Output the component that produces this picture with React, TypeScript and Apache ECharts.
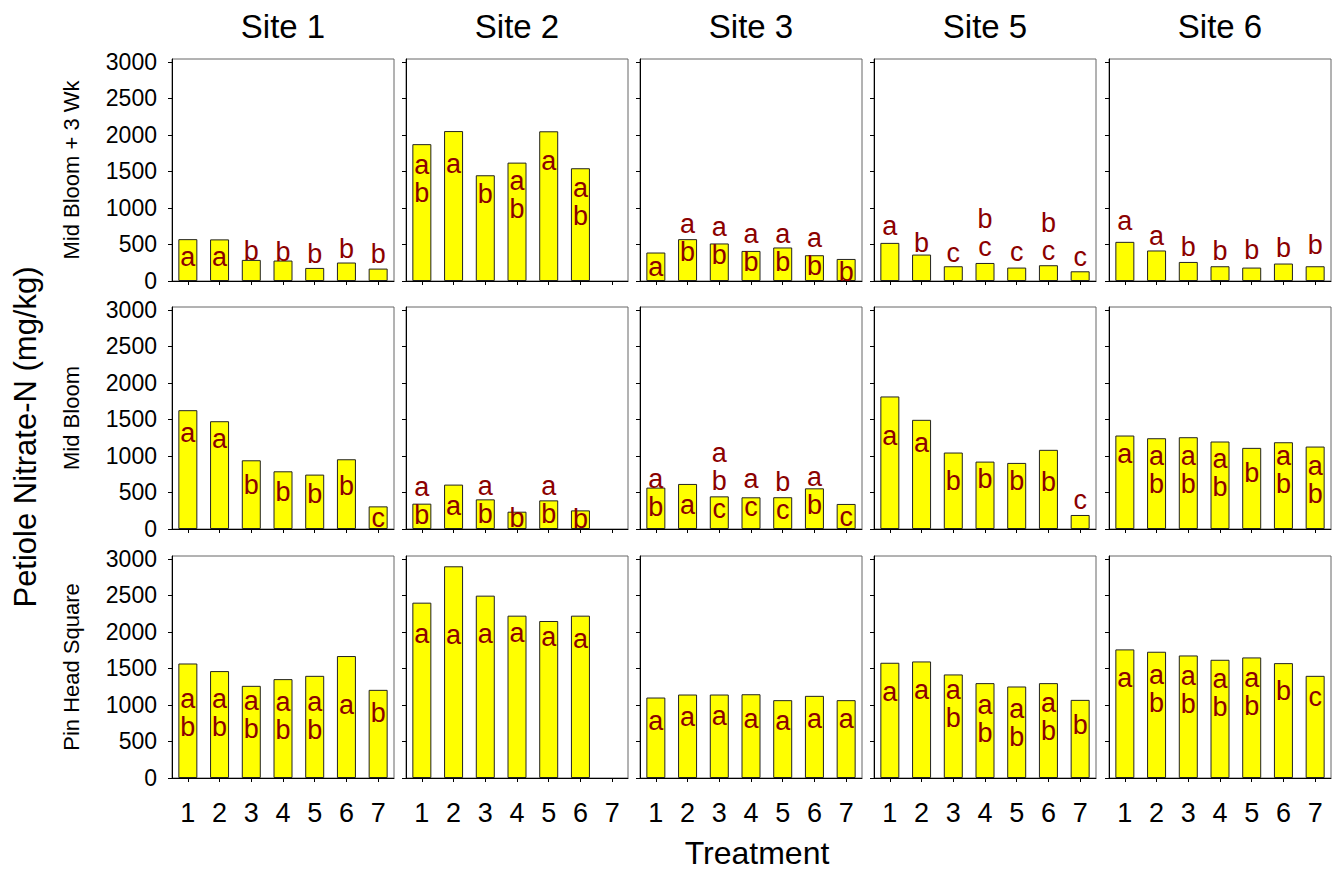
import React, { useEffect, useRef } from "react";
import * as echarts from "echarts";

const sites = ["Site 1", "Site 2", "Site 3", "Site 5", "Site 6"];
const stages = ["Mid Bloom + 3 Wk", "Mid Bloom", "Pin Head Square"];
const treatments = ["1", "2", "3", "4", "5", "6", "7"];
const yTickValues = [0, 500, 1000, 1500, 2000, 2500, 3000];

// Mid Bloom + 3 Wk
const mb3Site1 = [573, 570, 289, 280, 179, 253, 170];
const mb3Site2 = [1874, 2053, 1448, 1621, 2050, 1544, null];
const mb3Site3 = [390, 573, 514, 412, 459, 353, 302];
const mb3Site5 = [522, 362, 202, 247, 184, 216, 133];
const mb3Site6 = [536, 418, 261, 202, 184, 239, 202];
// Mid Bloom
const mbSite1 = [1627, 1476, 941, 790, 745, 955, 310];
const mbSite2 = [347, 608, 406, 237, 392, 255, null];
const mbSite3 = [567, 617, 447, 434, 435, 557, 343];
const mbSite5 = [1815, 1495, 1047, 923, 905, 1084, 192];
const mbSite6 = [1280, 1243, 1257, 1198, 1111, 1188, 1129];
// Pin Head Square
const phsSite1 = [1568, 1464, 1262, 1354, 1399, 1670, 1207];
const phsSite2 = [2401, 2899, 2497, 2223, 2150, 2223, null];
const phsSite3 = [1102, 1143, 1143, 1147, 1066, 1125, 1066];
const phsSite5 = [1578, 1596, 1418, 1299, 1253, 1299, 1070];
const phsSite6 = [1761, 1729, 1678, 1619, 1651, 1573, 1399];

// significance letters
const mb3Let1 = ["a", "a", "b", "b", "b", "b", "b"];
const mb3Let2 = ["a\nb", "a", "b", "a\nb", "a", "a\nb", ""];
const mb3Let3 = ["a", "a\nb", "a\nb", "a\nb", "a\nb", "a\nb", "b"];
const mb3Let5 = ["a", "b", "c", "b\nc", "c", "b\nc", "c"];
const mb3Let6 = ["a", "a", "b", "b", "b", "b", "b"];
const mbLet1 = ["a", "a", "b", "b", "b", "b", "c"];
const mbLet2 = ["a\nb", "a", "a\nb", "b", "a\nb", "b", ""];
const mbLet3 = ["a\nb", "a", "a\nb\nc", "a\nc", "b\nc", "a\nb", "c"];
const mbLet5 = ["a", "a", "b", "b", "b", "b", "c"];
const mbLet6 = ["a", "a\nb", "a\nb", "a\nb", "b", "a\nb", "a\nb"];
const phsLet1 = ["a\nb", "a\nb", "a\nb", "a\nb", "a\nb", "a", "b"];
const phsLet2 = ["a", "a", "a", "a", "a", "a", ""];
const phsLet3 = ["a", "a", "a", "a", "a", "a", "a"];
const phsLet5 = ["a", "a", "a\nb", "a\nb", "a\nb", "a\nb", "b"];
const phsLet6 = ["a", "a\nb", "a\nb", "a\nb", "a\nb", "b", "c"];

// letter anchor heights (mg/kg, centre of the letter block)
const mb3Anc1 = [308, 308, 385, 376, 339, 408, 339];
const mb3Anc2 = [1370, 1576, 1164, 1146, 1613, 1050, 0];
const mb3Anc3 = [170, 568, 514, 418, 422, 371, 90];
const mb3Anc5 = [720, 490, 353, 635, 376, 577, 307];
const mb3Anc6 = [789, 582, 445, 385, 399, 431, 467];
const mbAnc1 = [1294, 1202, 576, 484, 447, 562, 128];
const mbAnc2 = [357, 288, 375, 128, 375, 104, 0];
const mbAnc3 = [471, 302, 631, 459, 425, 494, 137];
const mbAnc5 = [1248, 1157, 631, 653, 631, 622, 365];
const mbAnc6 = [996, 779, 784, 734, 745, 779, 642];
const phsAnc1 = [860, 860, 830, 826, 826, 978, 864];
const phsAnc2 = [1939, 1930, 1939, 1962, 1907, 1880, 0];
const phsAnc3 = [750, 809, 827, 786, 750, 786, 786];
const phsAnc5 = [1152, 1171, 983, 786, 727, 814, 704];
const phsAnc6 = [1345, 1198, 1184, 1134, 1150, 1162, 1080];

const values = [
  [mb3Site1, mb3Site2, mb3Site3, mb3Site5, mb3Site6],
  [mbSite1, mbSite2, mbSite3, mbSite5, mbSite6],
  [phsSite1, phsSite2, phsSite3, phsSite5, phsSite6],
];
const letters = [
  [mb3Let1, mb3Let2, mb3Let3, mb3Let5, mb3Let6],
  [mbLet1, mbLet2, mbLet3, mbLet5, mbLet6],
  [phsLet1, phsLet2, phsLet3, phsLet5, phsLet6],
];
const anchors = [
  [mb3Anc1, mb3Anc2, mb3Anc3, mb3Anc5, mb3Anc6],
  [mbAnc1, mbAnc2, mbAnc3, mbAnc5, mbAnc6],
  [phsAnc1, phsAnc2, phsAnc3, phsAnc5, phsAnc6],
];

const FONT = "'Liberation Sans', Arial, Helvetica, sans-serif";
const colLefts = [172, 406, 640, 874, 1109];
const rowTops = [59, 307, 556];
const PANEL = 222;

export default function App() {
  const ref = useRef<HTMLDivElement>(null);
  useEffect(() => {
    if (!ref.current) return;
    const chart = echarts.init(ref.current, null, { renderer: "svg" });
    const grid: any[] = [];
    const xAxis: any[] = [];
    const yAxis: any[] = [];
    const series: any[] = [];
    for (let r = 0; r < 3; r++) {
      for (let c = 0; c < 5; c++) {
        const idx = r * 5 + c;
        grid.push({
          left: colLefts[c],
          top: rowTops[r],
          width: PANEL,
          height: PANEL,
          show: true,
          borderColor: "#666",
          borderWidth: 1,
          backgroundColor: "transparent",
        });
        xAxis.push({
          type: "category",
          gridIndex: idx,
          data: treatments,
          axisLine: { show: true, lineStyle: { color: "#000", width: 1 } },
          axisTick: { show: true, alignWithLabel: true, length: 4, lineStyle: { color: "#000" } },
          axisLabel: {
            show: r === 2,
            fontSize: 27,
            color: "#000",
            margin: 21,
            fontFamily: FONT,
          },
          splitLine: { show: false },
        });
        yAxis.push({
          type: "value",
          gridIndex: idx,
          min: 0,
          max: 3040,
          axisLine: { show: true, lineStyle: { color: "#000", width: 1 } },
          axisTick: { show: true, length: 4, lineStyle: { color: "#000" }, customValues: yTickValues },
          axisLabel: {
            show: c === 0,
            fontSize: 23,
            color: "#000",
            margin: 15,
            fontFamily: FONT,
            customValues: yTickValues,
            formatter: (v: number) => String(v),
          },
          splitLine: { show: false },
        });
        series.push({
          type: "bar",
          xAxisIndex: idx,
          yAxisIndex: idx,
          data: values[r][c],
          barWidth: 19,
          itemStyle: { color: "#FFFF00", borderColor: "#222", borderWidth: 1 },
          silent: true,
        });
        const pts: any[] = [];
        letters[r][c].forEach((l, i) => {
          if (l) pts.push({ name: l, value: [i, anchors[r][c][i]] });
        });
        series.push({
          type: "scatter",
          xAxisIndex: idx,
          yAxisIndex: idx,
          symbolSize: 0,
          data: pts,
          silent: true,
          z: 5,
          itemStyle: { opacity: 1 },
          label: {
            show: true,
            position: "inside",
            formatter: (p: any) => p.name,
            color: "#8B0000",
            opacity: 1,
            textBorderWidth: 0,
            fontSize: 27,
            lineHeight: 28,
            fontFamily: FONT,
            offset: [0, -2],
          },
        });
      }
    }
    const graphic: any[] = [];
    sites.forEach((s, c) => {
      graphic.push({
        type: "text",
        x: colLefts[c] + PANEL / 2,
        y: 26,
        style: { text: s, fontSize: 33, fill: "#000", fontFamily: FONT, textAlign: "center", textVerticalAlign: "middle" },
      });
    });
    stages.forEach((s, r) => {
      graphic.push({
        type: "text",
        x: 71,
        y: rowTops[r] + PANEL / 2,
        rotation: Math.PI / 2,
        style: { text: s, fontSize: 22, fill: "#000", fontFamily: FONT, textAlign: "center", textVerticalAlign: "middle" },
      });
    });
    graphic.push({
      type: "text",
      x: 25,
      y: 437,
      rotation: Math.PI / 2,
      style: { text: "Petiole Nitrate-N (mg/kg)", fontSize: 31, fill: "#000", fontFamily: FONT, textAlign: "center", textVerticalAlign: "middle" },
    });
    graphic.push({
      type: "text",
      x: 757,
      y: 853,
      style: { text: "Treatment", fontSize: 32, fill: "#000", fontFamily: FONT, textAlign: "center", textVerticalAlign: "middle" },
    });
    chart.setOption({
      animation: false,
      backgroundColor: "#fff",
      grid,
      xAxis,
      yAxis,
      series,
      graphic,
    });
    return () => chart.dispose();
  }, []);
  return (
    <div
      ref={ref}
      style={{ position: "absolute", left: 0, top: 0, width: 1341, height: 871 }}
    />
  );
}
